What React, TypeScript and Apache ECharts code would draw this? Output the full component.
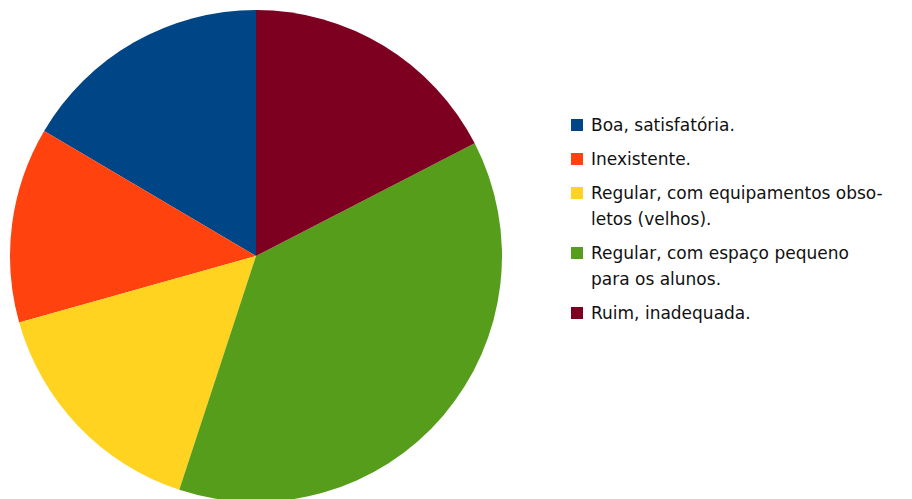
import React, { useEffect, useRef } from "react";
import * as echarts from "echarts";

const categories = [
  "Boa, satisfatória.",
  "Inexistente.",
  "Regular, com equipamentos obso-\nletos (velhos).",
  "Regular, com espaço pequeno\npara os alunos.",
  "Ruim, inadequada.",
];
const values = [18, 14, 17, 41, 19];
const colors = ["#004586", "#ff420e", "#ffd320", "#579d1c", "#7e0021"];

export default function App() {
  const ref = useRef<HTMLDivElement>(null);
  useEffect(() => {
    if (!ref.current) return;
    const chart = echarts.init(ref.current, undefined, { renderer: "svg" });
    const lineH = 26;
    const gap = 8;
    const legendX = 571;
    let y = 112;
    const legendItems: any[] = [];
    categories.forEach((name, i) => {
      const lines = name.split("\n").length;
      legendItems.push({
        type: "rect",
        shape: { x: legendX, y: y + 7, width: 12, height: 12 },
        style: { fill: colors[i] },
        silent: true,
      });
      legendItems.push({
        type: "text",
        x: legendX + 20,
        y: y,
        style: {
          text: name,
          fill: "#111111",
          font: "17px 'DejaVu Sans'",
          lineHeight: lineH,
          verticalAlign: "top",
          align: "left",
        },
        silent: true,
      });
      y += lines * lineH + gap;
    });
    chart.setOption({
      animation: false,
      backgroundColor: "#ffffff",
      series: [
        {
          type: "pie",
          center: [256, 256],
          radius: 246,
          startAngle: 90,
          clockwise: false,
          label: { show: false },
          labelLine: { show: false },
          emphasis: { disabled: true },
          itemStyle: { borderWidth: 0 },
          data: categories.map((n, i) => ({
            name: n,
            value: values[i],
            itemStyle: { color: colors[i] },
          })),
        },
      ],
      graphic: legendItems,
    });
    return () => chart.dispose();
  }, []);
  return (
    <div
      ref={ref}
      style={{ position: "fixed", left: 0, top: 0, width: 912, height: 499 }}
    />
  );
}
